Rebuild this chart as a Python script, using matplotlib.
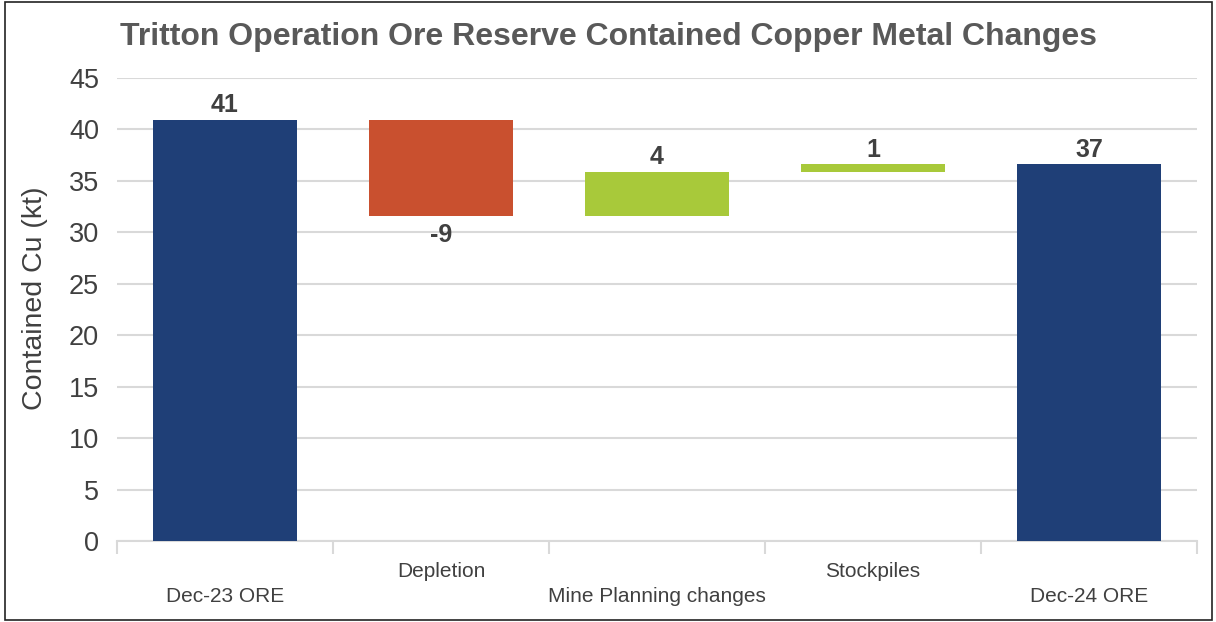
import numpy as np
import matplotlib.pyplot as plt
from matplotlib.patches import Rectangle
from matplotlib.transforms import blended_transform_factory

plt.rcParams['font.family'] = ['Liberation Sans', 'DejaVu Sans']

categories = ["Dec-23 ORE", "Depletion", "Mine Planning changes", "Stockpiles", "Dec-24 ORE"]
steps = [40.9, -9.3, 4.3, 0.7, 36.6]
kinds = ["total", "change", "change", "change", "total"]

NAVY = "#1F3F77"
RED = "#C9502F"
GREEN = "#A8C93A"
TXT = "#404040"

# waterfall bottoms/heights
bottoms, heights, colors = [], [], []
running = 0.0
for v, k in zip(steps, kinds):
    if k == "total":
        bottoms.append(0)
        heights.append(v)
        colors.append(NAVY)
        running = v
    else:
        if v < 0:
            bottoms.append(running + v)
            heights.append(-v)
            colors.append(RED)
        else:
            bottoms.append(running)
            heights.append(v)
            colors.append(GREEN)
        running += v

fig = plt.figure(figsize=(12.16, 6.22), dpi=100)
ax = fig.add_axes([0.0962, 0.1302, 0.8882, 0.7444])

x = np.arange(len(categories))
ax.bar(x, heights, bottom=bottoms, width=0.67, color=colors, zorder=3)

for xi, v, b, h, k in zip(x, steps, bottoms, heights, kinds):
    lab = f"{round(v):d}"
    if k == "change" and v < 0:
        ax.annotate(lab, (xi, b), xytext=(0, -5), textcoords="offset points",
                    ha="center", va="top", fontsize=18, fontweight="bold", color=TXT)
    else:
        ax.annotate(lab, (xi, b + h), xytext=(0, 2), textcoords="offset points",
                    ha="center", va="bottom", fontsize=18, fontweight="bold", color=TXT)

ax.set_xlim(-0.5, len(categories) - 0.5)
ax.set_ylim(0, 45)
ax.set_yticks(np.arange(0, 46, 5))
ax.tick_params(axis="y", length=0, labelsize=19.5, labelcolor=TXT, pad=13)
ax.grid(axis="y", color="#D9D9D9", linewidth=1.5, zorder=0)
ax.set_axisbelow(True)

ax.set_xticks(np.arange(-0.5, len(categories), 1.0))
ax.set_xticklabels([])
ax.tick_params(axis="x", length=9, color="#D9D9D9", width=1.5)

trans = blended_transform_factory(ax.transData, ax.transAxes)
for i, c in enumerate(categories):
    yoff = -0.065 if i % 2 == 1 else -0.12
    ax.text(i, yoff, c, transform=trans, ha="center", va="center",
            fontsize=15, color=TXT)

for s in ["top", "right", "left"]:
    ax.spines[s].set_visible(False)
ax.spines["bottom"].set_color("#D9D9D9")
ax.spines["bottom"].set_linewidth(1.5)

ax.set_ylabel("Contained Cu (kt)", fontsize=20.5, color=TXT)
ax.yaxis.set_label_coords(-0.0635, 0.525)

fig.text(0.5, 1 - 37 / 622, "Tritton Operation Ore Reserve Contained Copper Metal Changes",
         ha="center", va="center", fontsize=23, fontweight="bold", color="#595959")

fig.patches.append(Rectangle((0.004, 0.003), 0.993, 0.993, transform=fig.transFigure,
                             fill=False, edgecolor="#222222", linewidth=1.2))

fig.savefig("out.png", dpi=100)
